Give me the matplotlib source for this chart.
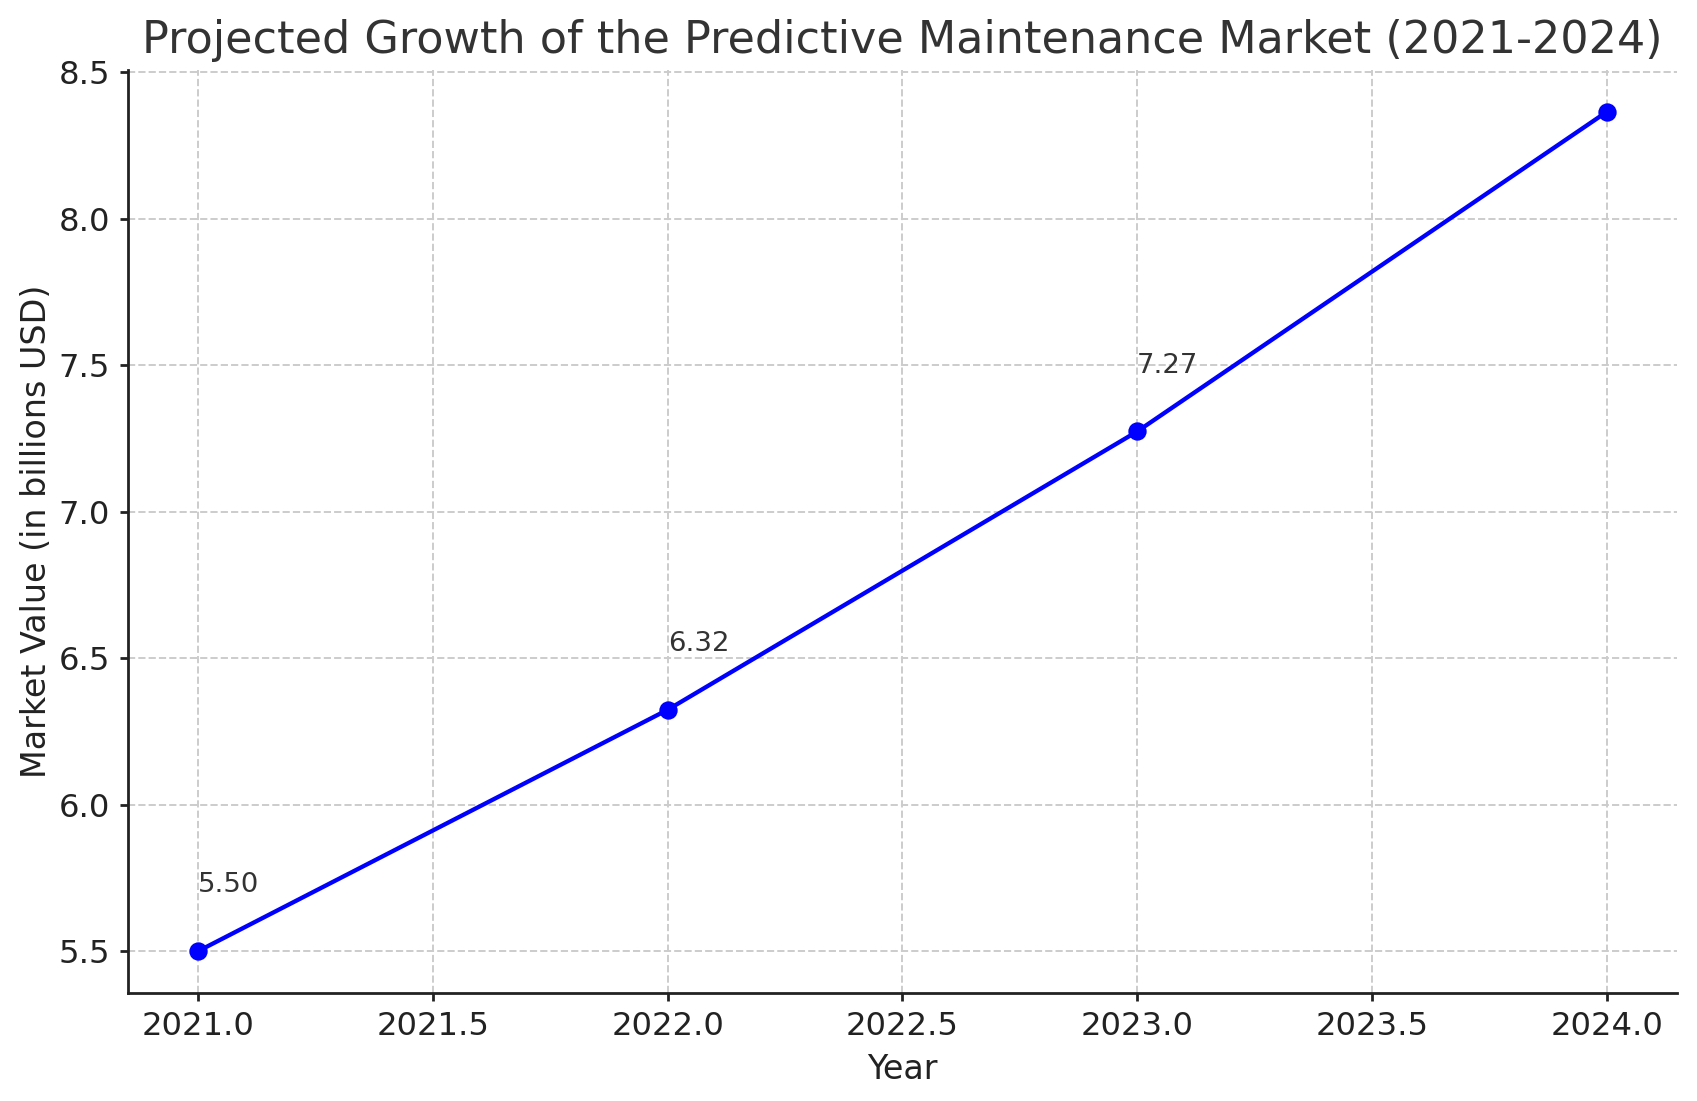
import matplotlib
matplotlib.use("Agg")
import matplotlib.pyplot as plt

years = [2021, 2022, 2023, 2024]
market_value = [5.50, 6.324, 7.274, 8.365]

title = "Projected Growth of the Predictive Maintenance Market (2021-2024)"
xlabel = "Year"
ylabel = "Market Value (in billions USD)"

plt.rcParams['font.family'] = ['DejaVu Sans']

fig = plt.figure(figsize=(16.97 / 2, 11.01 / 2), dpi=200)
ax = fig.add_axes([0.0754, 0.0981, 0.9128, 0.8383])

ax.plot(years, market_value, marker='o', color='blue', linewidth=1.55, markersize=5.6)

ymax = ax.get_ylim()[1]
for x, y in zip(years, market_value):
    # labels that would sit above the plot area are clipped away (as in the reference)
    if y + 0.2 <= ymax:
        ax.text(x, y + 0.2, f"{y:.2f}", fontsize=9.9, color='#333333', clip_on=True)

ax.set_title(title, fontsize=16.0, color='#333333', pad=6)
ax.set_xlabel(xlabel, fontsize=12, color='#222222')
ax.set_ylabel(ylabel, fontsize=12, color='#222222', labelpad=2)

ax.grid(True, linestyle='--', color='#cccccc', linewidth=0.7)
ax.set_axisbelow(True)
for s in ['top', 'right']:
    ax.spines[s].set_visible(False)
for s in ['left', 'bottom']:
    ax.spines[s].set_linewidth(1.0)
    ax.spines[s].set_color('#222222')
ax.tick_params(axis='both', labelsize=11.6, length=3, width=1.0, colors='#222222')

fig.savefig("out.png", dpi=200)
